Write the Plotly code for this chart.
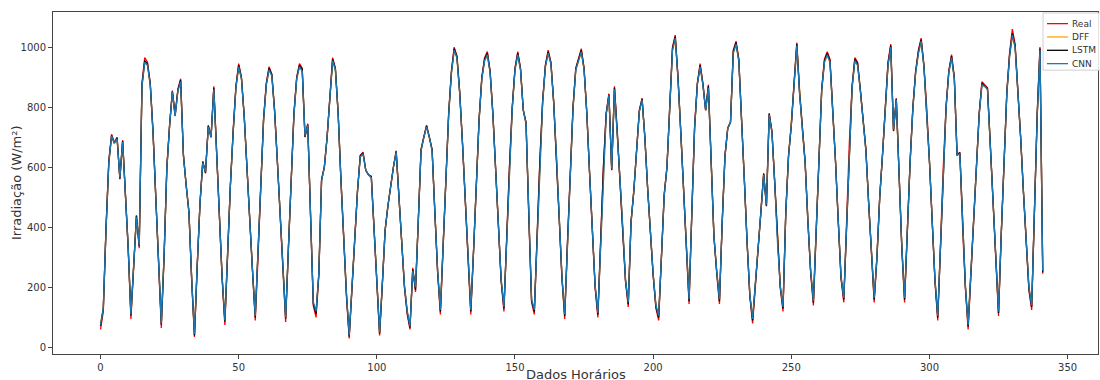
import plotly.graph_objects as go

# Hourly irradiance (W/m²): measured vs. model predictions
real = [
    60, 120, 400, 620, 710, 680, 700, 560, 690, 520, 330,
    95, 280, 440, 330, 880, 965, 950, 880, 720, 500, 280,
    65, 300, 600, 740, 855, 775, 860, 895, 640, 540, 450, 220,
    35, 270, 480, 620, 580, 740, 700, 870, 640, 430, 230,
    75, 320, 540, 720, 870, 945, 900, 770, 590, 420, 250,
    90, 300, 560, 760, 880, 935, 910, 790, 620, 430, 240,
    85, 330, 580, 780, 900, 945, 930, 700, 745, 430, 140,
    100, 240, 560, 600, 700, 840, 965, 930, 780, 560, 350, 170,
    30, 200, 380, 520, 640, 650, 590, 575, 570, 400, 240,
    40, 210, 390, 470, 540, 600, 655, 490, 335, 200, 110,
    60, 265, 185, 420, 660, 700, 740, 700, 660, 450, 250,
    110, 330, 570, 780, 920, 1000, 970, 850, 680, 480, 290,
    110, 320, 560, 760, 900, 965, 985, 920, 780, 600, 400, 220,
    120, 380, 600, 800, 930, 985, 930, 790, 750, 440, 150,
    110, 380, 620, 820, 940, 990, 950, 820, 640, 430, 230,
    95, 350, 600, 800, 930, 960, 995, 930, 780, 580, 380, 200,
    100, 360, 600, 780, 845, 590, 870, 720, 560, 400, 220,
    135, 420, 520, 650, 790, 830, 700, 530, 370, 240, 130,
    90, 300, 510, 600, 820, 1000, 1040, 900, 720, 520, 320,
    145, 450, 735, 880, 945, 880, 790, 875, 620, 370, 250,
    145, 420, 640, 730, 750, 990, 1020, 960, 780, 560, 350, 170,
    80, 200, 330, 450, 580, 470, 780, 720, 550, 350, 200,
    120, 450, 640, 740, 880, 1015, 850, 720, 620, 420, 250,
    140, 400, 660, 860, 960, 985, 960, 800, 620, 420, 230,
    150, 420, 680, 870, 965, 950, 860, 760, 660, 480, 330,
    150, 300, 500, 640, 800, 950, 1010, 720, 830, 560, 330,
    150, 400, 620, 800, 920, 990, 1030, 940, 800, 620, 420, 220,
    90, 350, 600, 800, 920, 975, 900, 640, 650, 400, 200,
    60, 250, 450, 620, 780, 885, 875, 865, 680, 480, 280,
    105, 380, 640, 850, 980, 1060, 1010, 870, 700, 520, 340, 190,
    125, 450, 780, 1000, 245,
]

dff = [
    78, 132, 395, 612, 702, 678, 694, 566, 684, 516, 338,
    112, 286, 436, 342, 868, 948, 938, 872, 714, 502, 288,
    82, 306, 594, 738, 848, 772, 852, 884, 642, 540, 452, 228,
    48, 276, 478, 614, 586, 734, 700, 858, 640, 432, 238,
    92, 326, 538, 714, 862, 934, 894, 770, 592, 422, 258,
    106, 306, 554, 752, 872, 924, 904, 786, 620, 432, 248,
    102, 332, 574, 772, 892, 934, 918, 706, 738, 436, 152,
    122, 246, 554, 602, 700, 834, 952, 922, 778, 562, 356, 182,
    44, 206, 382, 520, 634, 644, 590, 574, 566, 402, 248,
    54, 216, 390, 472, 540, 600, 648, 492, 336, 206, 122,
    72, 256, 202, 422, 654, 698, 734, 700, 654, 452, 258,
    128, 332, 564, 772, 912, 988, 962, 844, 680, 482, 296,
    128, 322, 556, 752, 894, 954, 972, 914, 774, 600, 402, 228,
    136, 376, 594, 792, 922, 972, 924, 790, 744, 442, 162,
    126, 376, 614, 812, 932, 978, 944, 814, 640, 432, 238,
    112, 352, 594, 792, 922, 954, 982, 924, 778, 580, 382, 208,
    116, 356, 594, 774, 838, 596, 858, 720, 560, 402, 228,
    152, 414, 522, 644, 784, 824, 700, 532, 372, 246, 142,
    108, 302, 504, 602, 812, 988, 1026, 894, 716, 520, 326,
    162, 444, 728, 872, 934, 876, 790, 864, 620, 372, 256,
    162, 414, 634, 730, 752, 978, 1008, 952, 774, 560, 352, 178,
    98, 206, 332, 450, 574, 476, 772, 714, 550, 352, 206,
    138, 444, 634, 740, 872, 1002, 846, 720, 614, 422, 256,
    156, 402, 654, 852, 948, 972, 948, 794, 620, 422, 238,
    166, 416, 674, 862, 952, 938, 854, 760, 654, 482, 336,
    166, 302, 500, 640, 794, 938, 998, 726, 824, 562, 336,
    166, 402, 614, 794, 912, 978, 1018, 934, 794, 620, 422, 228,
    108, 346, 594, 794, 914, 962, 894, 642, 644, 402, 208,
    78, 252, 446, 620, 774, 872, 868, 858, 680, 482, 286,
    122, 382, 634, 842, 968, 1036, 998, 864, 700, 522, 346, 202,
    142, 446, 768, 986, 258,
]

lstm = [
    72, 128, 398, 618, 706, 682, 698, 562, 688, 518, 334,
    106, 283, 438, 338, 874, 955, 944, 877, 718, 500, 284,
    76, 303, 597, 740, 852, 772, 858, 890, 640, 540, 450, 224,
    40, 272, 480, 618, 582, 738, 700, 865, 640, 430, 234,
    86, 322, 540, 718, 868, 940, 898, 770, 590, 420, 254,
    100, 302, 558, 758, 878, 930, 908, 788, 620, 430, 244,
    96, 330, 578, 778, 898, 940, 926, 702, 742, 432, 146,
    112, 242, 558, 600, 700, 838, 960, 928, 780, 560, 352, 176,
    36, 202, 380, 520, 638, 648, 590, 575, 568, 400, 244,
    46, 212, 390, 470, 540, 600, 652, 490, 335, 202, 116,
    66, 260, 192, 420, 658, 700, 738, 700, 658, 450, 252,
    120, 330, 568, 778, 918, 995, 968, 848, 680, 480, 292,
    120, 320, 558, 758, 898, 960, 980, 918, 778, 600, 400, 222,
    130, 378, 598, 798, 928, 980, 928, 790, 748, 440, 156,
    120, 378, 618, 818, 938, 985, 948, 818, 640, 430, 232,
    104, 350, 598, 798, 928, 958, 990, 928, 780, 580, 380, 202,
    110, 358, 598, 778, 842, 592, 865, 720, 560, 400, 222,
    144, 418, 520, 648, 788, 828, 700, 530, 370, 242, 136,
    100, 300, 508, 600, 818, 995, 1035, 898, 718, 520, 322,
    154, 448, 732, 878, 940, 878, 790, 870, 620, 370, 252,
    154, 418, 638, 730, 750, 985, 1015, 958, 778, 560, 350, 172,
    90, 202, 330, 450, 578, 472, 778, 718, 550, 350, 202,
    130, 448, 638, 740, 878, 1010, 848, 720, 618, 420, 252,
    150, 400, 658, 858, 955, 980, 955, 798, 620, 420, 232,
    160, 418, 678, 868, 960, 945, 858, 760, 658, 480, 332,
    160, 300, 500, 640, 798, 945, 1005, 722, 828, 560, 332,
    160, 400, 618, 798, 918, 985, 1025, 938, 798, 620, 420, 222,
    100, 348, 598, 798, 918, 970, 898, 640, 648, 400, 202,
    70, 250, 448, 620, 778, 880, 872, 862, 680, 480, 282,
    115, 380, 638, 848, 975, 1045, 1005, 868, 700, 520, 342, 195,
    135, 448, 775, 995, 250,
]

cnn = [
    75, 130, 395, 615, 705, 680, 695, 565, 685, 515, 335,
    110, 285, 435, 340, 870, 950, 940, 875, 715, 500, 285,
    80, 305, 595, 740, 850, 770, 855, 885, 640, 540, 450, 225,
    45, 275, 480, 615, 585, 735, 700, 860, 640, 430, 235,
    90, 325, 540, 715, 865, 935, 895, 770, 590, 420, 255,
    105, 305, 555, 755, 875, 925, 905, 785, 620, 430, 245,
    100, 330, 575, 775, 895, 935, 920, 705, 740, 435, 150,
    120, 245, 555, 600, 700, 835, 955, 925, 780, 560, 355, 180,
    40, 205, 380, 520, 635, 645, 590, 575, 565, 400, 245,
    50, 215, 390, 470, 540, 600, 650, 490, 335, 205, 120,
    70, 255, 200, 420, 655, 700, 735, 700, 655, 450, 255,
    125, 330, 565, 775, 915, 990, 965, 845, 680, 480, 295,
    125, 320, 555, 755, 895, 955, 975, 915, 775, 600, 400, 225,
    135, 375, 595, 795, 925, 975, 925, 790, 745, 440, 160,
    125, 375, 615, 815, 935, 980, 945, 815, 640, 430, 235,
    110, 350, 595, 795, 925, 955, 985, 925, 780, 580, 380, 205,
    115, 355, 595, 775, 840, 595, 860, 720, 560, 400, 225,
    150, 415, 520, 645, 785, 825, 700, 530, 370, 245, 140,
    105, 300, 505, 600, 815, 990, 1030, 895, 715, 520, 325,
    160, 445, 730, 875, 935, 875, 790, 865, 620, 370, 255,
    160, 415, 635, 730, 750, 980, 1010, 955, 775, 560, 350, 175,
    95, 205, 330, 450, 575, 475, 775, 715, 550, 350, 205,
    135, 445, 635, 740, 875, 1005, 845, 720, 615, 420, 255,
    155, 400, 655, 855, 950, 975, 950, 795, 620, 420, 235,
    165, 415, 675, 865, 955, 940, 855, 760, 655, 480, 335,
    165, 300, 500, 640, 795, 940, 1000, 725, 825, 560, 335,
    165, 400, 615, 795, 915, 980, 1020, 935, 795, 620, 420, 225,
    105, 345, 595, 795, 915, 965, 895, 640, 645, 400, 205,
    75, 250, 445, 620, 775, 875, 870, 860, 680, 480, 285,
    120, 380, 635, 845, 970, 1040, 1000, 865, 700, 520, 345, 200,
    140, 445, 770, 990, 255,
]

hours = list(range(len(real)))

series = [
    ("Real", real, "#ff0000"),
    ("DFF", dff, "#ffa500"),
    ("LSTM", lstm, "#000000"),
    ("CNN", cnn, "#1f77b4"),
]

x_ticks = [0, 50, 100, 150, 200, 250, 300, 350]
y_ticks = [0, 200, 400, 600, 800, 1000]

fig = go.Figure()
for name, vals, color in series:
    fig.add_trace(go.Scatter(
        x=hours, y=vals, mode="lines", name=name,
        line=dict(color=color, width=1.3), showlegend=False,
    ))

axis_common = dict(
    showline=True, linecolor="#444", linewidth=1, mirror=True,
    ticks="outside", ticklen=4, tickcolor="#444", tickwidth=1,
    showgrid=False, zeroline=False, automargin=False,
    tickfont=dict(family="DejaVu Sans", size=10, color="#333"),
)

# Compact legend (matplotlib-like), drawn in paper coordinates
shapes = [dict(type="rect", xref="paper", yref="paper",
               x0=0.9474, x1=1.004, y0=0.830, y1=0.997,
               fillcolor="rgba(255,255,255,0.85)",
               line=dict(color="#d0d0d0", width=1), layer="above")]
annotations = []
row_y = [0.966, 0.927, 0.888, 0.849]
for (name, _, color), yy in zip(series, row_y):
    shapes.append(dict(type="line", xref="paper", yref="paper",
                       x0=0.9512, x1=0.9713, y0=yy, y1=yy,
                       line=dict(color=color, width=1.3), layer="above"))
    annotations.append(dict(text=name, xref="paper", yref="paper",
                            x=0.9735, y=yy, xanchor="left", yanchor="middle",
                            showarrow=False,
                            font=dict(family="DejaVu Sans", size=9, color="#333")))

annotations += [
    dict(text="Dados Horários", xref="paper", yref="paper",
         x=0.5, y=0, yshift=-20, xanchor="center", yanchor="middle",
         showarrow=False, font=dict(family="DejaVu Sans", size=13, color="#333")),
    dict(text="Irradiação (W/m²)", xref="paper", yref="paper",
         x=0, xshift=-37, y=0.5, xanchor="center", yanchor="middle",
         textangle=-90, showarrow=False,
         font=dict(family="DejaVu Sans", size=13, color="#333")),
]

fig.update_layout(
    width=1100, height=380,
    margin=dict(l=53, r=2, t=12, b=26),
    paper_bgcolor="white", plot_bgcolor="white",
    font=dict(family="DejaVu Sans", color="#333"),
    showlegend=False,
    xaxis=dict(range=[-17.2, 361], tickvals=x_ticks, **axis_common),
    yaxis=dict(range=[-22, 1117], tickvals=y_ticks, **axis_common),
    shapes=shapes,
    annotations=annotations,
)

# remove the page's default body margin so the 1100x380 figure fills the window
fig.write_html(
    "out.html",
    config={"displayModeBar": False},
    post_script="document.body.style.margin='0';document.body.style.overflow='hidden';",
)
